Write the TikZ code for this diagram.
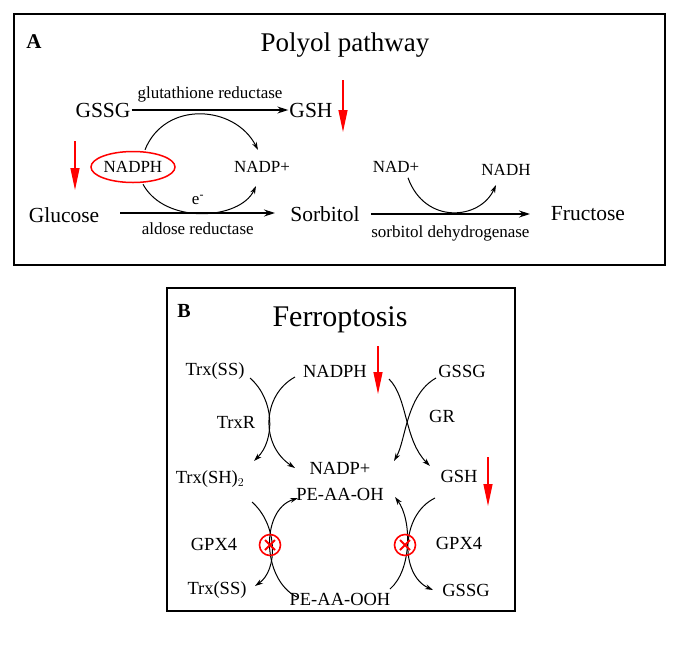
\documentclass[tikz,border=0pt]{standalone}
\usepackage{fontspec}
\setmainfont{Liberation Serif}
\usetikzlibrary{arrows.meta, shapes.geometric}

\begin{document}
\begin{tikzpicture}[x=1pt,y=-1pt,
    txt/.style={inner sep=1pt,font=\fontsize{21.5}{23}\selectfont},
    sml/.style={inner sep=1pt,font=\fontsize{17}{19}\selectfont},
    mid/.style={inner sep=1pt,font=\fontsize{18.5}{20}\selectfont},
    flow/.style={line width=1.1pt,-{Stealth[length=11pt,width=7pt]}},
    curv/.style={line width=1pt,-{Stealth[length=8pt,width=5pt]}},
    down/.style={red,line width=1.3pt,-{Triangle[length=22pt,width=9pt]}},
    panel/.style={line width=2pt}]
    \useasboundingbox (0,0) rectangle (693,646);

    % panel A
    \draw[panel] (14,14) rectangle (665,265);
    \node[font=\fontsize{21}{22}\selectfont\bfseries] (labA) at (34,42) {A};
    \node[font=\fontsize{27}{29}\selectfont] (titA) at (345,45) {Polyol pathway};

    \node[txt] (gssgA) at (103,110) {GSSG};
    \node[txt] (gshA) at (311,110) {GSH};
    \node[txt] (glc) at (64,215) {Glucose};
    \node[txt] (sor) at (325,214) {Sorbitol};
    \node[txt] (fru) at (588,214) {Fructose};
    \node[sml] (nadpA) at (262,167) {NADP+};
    \node[sml,draw=red,line width=1.5pt,ellipse,inner sep=0pt,minimum width=84pt,minimum height=31pt] (nadphA) at (133,167) {NADPH};
    \node[sml] (nadA) at (396,167) {NAD+};
    \node[sml] (nadh) at (506,170) {NADH};

    \draw[flow] (gssgA) -- node[sml,above=6pt] {glutathione reductase} (gshA);
    \draw[flow] (glc.east) ++(20,-2) coordinate (gl1) -- node[sml,below=8pt] {aldose reductase} (275,213) coordinate (gl2);
    \draw[flow] (sor.east) ++(10,0) coordinate (so1) -- node[sml,below=10pt] {sorbitol dehydrogenase} (530,214) coordinate (so2);

    \draw[curv] (nadphA.north) ++(12,-1) .. controls (165,100) and (235,105) .. (258,150);
    \draw[curv] (nadphA.south) ++(10,1) .. controls (165,225) and (240,220) .. (256,186);
    \node[sml] (elec) at (198,200) {e\textsuperscript{-}};
    \draw[curv] (nadA.south) ++(12,4) .. controls (425,225) and (480,220) .. (496,185);

    \draw[down] (343,80) -- (343,132);
    \draw[down] (75,141) -- (75,190);

    % panel B
    \draw[panel] (167,288) rectangle (515,611);
    \node[font=\fontsize{20}{22}\selectfont\bfseries] (labB) at (184,311) {B};
    \node[font=\fontsize{30}{32}\selectfont] (titB) at (340,320) {Ferroptosis};

    \node[mid] (trxa) at (215,371) {Trx(SS)};
    \node[mid] (nadph) at (335,371) {NADPH};
    \node[mid] (gssga) at (462,371) {GSSG};
    \node[mid] (trxr) at (236,422) {TrxR};
    \node[mid] (gr) at (442,416) {GR};
    \node[mid] (nadp) at (340,468) {NADP+};
    \node[mid] (trxsh) at (210,479) {Trx(SH)$_2$};
    \node[mid] (gsh) at (459,476) {GSH};
    \node[mid] (peoh) at (340,494) {PE-AA-OH};
    \node[mid] (gpxl) at (214,544) {GPX4};
    \node[mid] (gpxr) at (459,543) {GPX4};
    \node[mid] (trxb) at (217,590) {Trx(SS)};
    \node[mid] (peooh) at (340,599) {PE-AA-OOH};
    \node[mid] (gssgb) at (466,590) {GSSG};

    % crossing arcs
    \draw[curv] (250,378) .. controls (275,400) and (275,440) .. (254,461);
    \draw[curv] (295,377) .. controls (262,395) and (260,445) .. (295,468);
    \draw[curv] (389,379) .. controls (408,398) and (404,440) .. (430,466);
    \draw[curv] (436,378) .. controls (406,395) and (406,440) .. (394,461);
    \draw[curv] (252,502) .. controls (278,525) and (278,570) .. (255,586);
    \draw[curv] (297,597) .. controls (262,580) and (260,510) .. (298,498);
    \draw[curv] (435,498) .. controls (400,515) and (400,575) .. (433,590);
    \draw[curv] (390,589) .. controls (412,570) and (412,520) .. (395,497);

    % inhibition marks
    \foreach \cx in {270,405} {
        \draw[red,line width=1.6pt] (\cx,545) circle (10.5);
        \draw[red,line width=1.8pt] (\cx-5,540) -- (\cx+5,550) (\cx-5,550) -- (\cx+5,540);
    }

    \draw[down] (378,346) -- (378,394);
    \draw[down] (488,457) -- (488,506);
\end{tikzpicture}
\end{document}
